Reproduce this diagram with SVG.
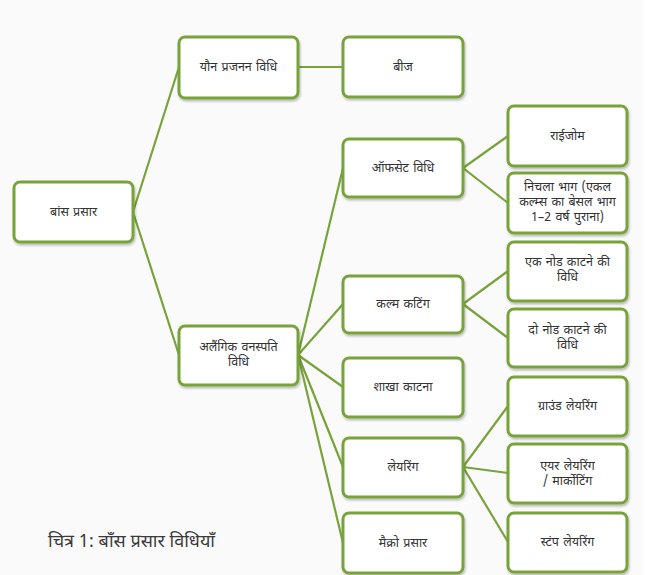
<svg xmlns="http://www.w3.org/2000/svg" width="652" height="575" viewBox="0 0 652 575">
<style>
.bg{fill:#fafafa}
.box{fill:#ffffff;stroke:#78a33b;stroke-width:3}
.t{font-family:"Noto Sans Devanagari","Noto Sans","Liberation Sans",sans-serif;font-size:12.5px;fill:#333333;text-anchor:middle;word-spacing:1px}
.cap{font-family:"Noto Sans Devanagari","Noto Sans","Liberation Sans",sans-serif;font-size:18px;fill:#3a3a3a}
.c{stroke:#78a33b;stroke-width:2.2;fill:none}
</style>
<defs>
<filter id="ds" x="-10%" y="-10%" width="130%" height="140%">
<feDropShadow dx="1" dy="2" stdDeviation="1.2" flood-color="#000" flood-opacity="0.25"/>
</filter>
</defs>
<rect class="bg" x="0" y="0" width="643" height="575"/>
<g id="connectors">
<line class="c" x1="133" y1="212" x2="179" y2="67"/>
<line class="c" x1="133" y1="212" x2="179" y2="355"/>
<line class="c" x1="298" y1="67" x2="343" y2="67"/>
<line class="c" x1="298" y1="355" x2="343" y2="168"/>
<line class="c" x1="298" y1="355" x2="343" y2="304"/>
<line class="c" x1="298" y1="355" x2="343" y2="387"/>
<line class="c" x1="298" y1="355" x2="343" y2="467"/>
<line class="c" x1="298" y1="355" x2="343" y2="543"/>
<line class="c" x1="463" y1="168" x2="508" y2="136"/>
<line class="c" x1="463" y1="168" x2="508" y2="203"/>
<line class="c" x1="463" y1="304" x2="508" y2="271"/>
<line class="c" x1="463" y1="304" x2="508" y2="338"/>
<line class="c" x1="463" y1="467" x2="508" y2="406"/>
<line class="c" x1="463" y1="467" x2="508" y2="473"/>
<line class="c" x1="463" y1="467" x2="508" y2="542"/>
</g>
<g id="n-root"><rect class="box" filter="url(#ds)" x="14" y="182" width="119" height="60" rx="6"/><text class="t" x="73.5" y="216">बांस प्रसार</text></g>
<g id="n-yon"><rect class="box" filter="url(#ds)" x="179" y="37" width="119" height="61" rx="6"/><text class="t" x="238.5" y="71">यौन प्रजनन विधि</text></g>
<g id="n-alaingik"><rect class="box" filter="url(#ds)" x="179" y="326" width="119" height="59" rx="6"/><text class="t" x="238.5" y="351">अलैंगिक वनस्पति</text><text class="t" x="238.5" y="366">विधि</text></g>
<g id="n-beej"><rect class="box" filter="url(#ds)" x="343" y="37" width="120" height="60" rx="6"/><text class="t" x="403" y="71">बीज</text></g>
<g id="n-offset"><rect class="box" filter="url(#ds)" x="343" y="139" width="120" height="58" rx="6"/><text class="t" x="403" y="172">ऑफसेट विधि</text></g>
<g id="n-culm"><rect class="box" filter="url(#ds)" x="343" y="276" width="120" height="57" rx="6"/><text class="t" x="403" y="308">कल्म कटिंग</text></g>
<g id="n-shakha"><rect class="box" filter="url(#ds)" x="343" y="358" width="120" height="59" rx="6"/><text class="t" x="403" y="391">शाखा काटना</text></g>
<g id="n-layering"><rect class="box" filter="url(#ds)" x="343" y="438" width="120" height="59" rx="6"/><text class="t" x="403" y="471">लेयरिंग</text></g>
<g id="n-macro"><rect class="box" filter="url(#ds)" x="343" y="513" width="120" height="60" rx="6"/><text class="t" x="403" y="547">मैक्रो प्रसार</text></g>
<g id="n-rhizome"><rect class="box" filter="url(#ds)" x="508" y="106" width="119" height="60" rx="6"/><text class="t" x="567.5" y="140">राईजोम</text></g>
<g id="n-nichla"><rect class="box" filter="url(#ds)" x="508" y="173" width="119" height="60" rx="6"/><text class="t" x="567.5" y="191">निचला भाग (एकल</text><text class="t" x="567.5" y="206">कल्म्स का बेसल भाग</text><text class="t" x="567.5" y="221">1–2 वर्ष पुराना)</text></g>
<g id="n-eknode"><rect class="box" filter="url(#ds)" x="508" y="242" width="119" height="59" rx="6"/><text class="t" x="567.5" y="266">एक नोड काटने की</text><text class="t" x="567.5" y="281">विधि</text></g>
<g id="n-donode"><rect class="box" filter="url(#ds)" x="508" y="309" width="119" height="58" rx="6"/><text class="t" x="567.5" y="334">दो नोड काटने की</text><text class="t" x="567.5" y="349">विधि</text></g>
<g id="n-ground"><rect class="box" filter="url(#ds)" x="508" y="377" width="119" height="59" rx="6"/><text class="t" x="567.5" y="410">ग्राउंड लेयरिंग</text></g>
<g id="n-air"><rect class="box" filter="url(#ds)" x="508" y="444" width="119" height="59" rx="6"/><text class="t" x="567.5" y="470">एयर लेयरिंग</text><text class="t" x="567.5" y="485">/ मार्कोटिंग</text></g>
<g id="n-stump"><rect class="box" filter="url(#ds)" x="508" y="513" width="119" height="59" rx="6"/><text class="t" x="567.5" y="546">स्टंप लेयरिंग</text></g>
<text class="cap" x="48" y="547">चित्र 1: बाँस प्रसार विधियाँ</text>
</svg>
